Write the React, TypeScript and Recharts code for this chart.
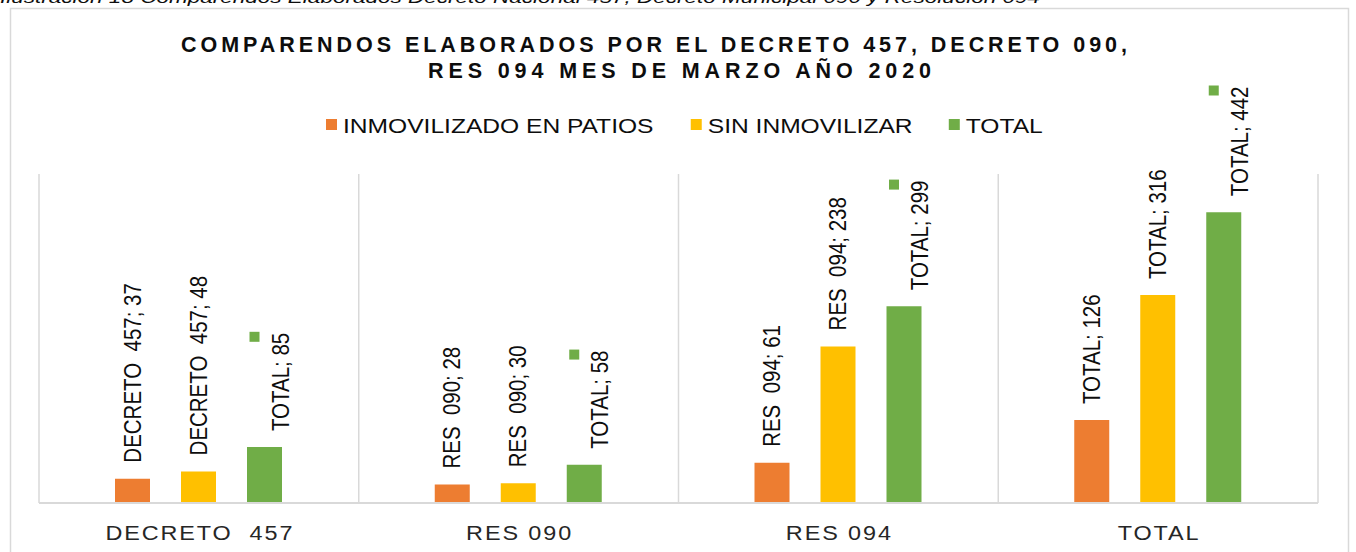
import React from "react";
import { BarChart, Bar, XAxis, YAxis, CartesianGrid, Legend, LabelList } from "recharts";

const categories = ["DECRETO  457", "RES 090", "RES 094", "TOTAL"];
const seriesNames = ["INMOVILIZADO EN PATIOS", "SIN INMOVILIZAR", "TOTAL"];
const inmovilizado = [37, 28, 61, 126];
const sinInmovilizar = [48, 30, 238, 316];
const total = [85, 58, 299, 442];
const inmovilizadoLabels = ["DECRETO  457; 37", "RES  090; 28", "RES  094; 61", "TOTAL; 126"];
const sinInmovilizarLabels = ["DECRETO  457; 48", "RES  090; 30", "RES  094; 238", "TOTAL; 316"];
const totalLabels = ["TOTAL; 85", "TOTAL; 58", "TOTAL; 299", "TOTAL; 442"];
const titleLines = ["COMPARENDOS ELABORADOS POR EL DECRETO 457, DECRETO 090,", "RES 094 MES DE MARZO AÑO 2020"];
const caption = "Ilustración 18 Comparendos Elaborados Decreto Nacional 457, Decreto Municipal 090 y Resolución 094";

const COLORS = ["#ED7D31", "#FFC000", "#70AD47"];
const FONT = "'Liberation Sans', Arial, sans-serif";
const STRETCH = 1.2; // the source picture is widened horizontally

const data = categories.map((c, i) => ({
  name: c,
  inmovilizado: inmovilizado[i],
  sin: sinInmovilizar[i],
  total: total[i],
}));

// rough Arial advance widths (em) for placing the legend key and legend items
const W: Record<string, number> = {
  " ": 0.278, ";": 0.278, ",": 0.278, I: 0.278, L: 0.556, T: 0.611, Z: 0.611, F: 0.611,
  A: 0.667, E: 0.667, P: 0.667, S: 0.667, V: 0.667, B: 0.667,
  C: 0.722, D: 0.722, N: 0.722, R: 0.722, H: 0.722, U: 0.722, O: 0.778, M: 0.833,
};
function textWidth(s: string, size: number) {
  let w = 0;
  for (const ch of s) w += W[ch] ?? 0.556;
  return w * size;
}

const LABEL_SIZE = 20.5;

function makeLabel(texts: string[], values: number[], legendKey: boolean) {
  return (props: any) => {
    const vb = props.viewBox ?? props;
    const { x, y, width } = vb;
    const idx = props.index ?? values.indexOf(Number(props.value));
    const txt = texts[idx];
    if (txt == null) return null;
    const cx = x + width / 2;
    const startY = y - 16;
    const tx = legendKey ? cx + 16 : cx;
    const len = textWidth(txt, LABEL_SIZE);
    return (
      <g>
        <text
          transform={`translate(${tx},${startY}) scale(${STRETCH},1) rotate(-90)`}
          x={0}
          y={0}
          dominantBaseline="central"
          textAnchor="start"
          fontFamily={FONT}
          fontSize={LABEL_SIZE}
          fill="#0d0d0d"
          style={{ whiteSpace: "pre" }}
        >
          {txt}
        </text>
        {legendKey && (
          <rect x={cx - 15} y={startY - len + 1} width={10} height={10} fill={COLORS[2]} />
        )}
      </g>
    );
  };
}

function CategoryTick(props: any) {
  const { x, y, payload } = props;
  return (
    <text
      transform={`translate(${x + 1},${y + 29}) scale(${STRETCH},1)`}
      textAnchor="middle"
      fontFamily={FONT}
      fontSize={19.5}
      letterSpacing={1.6}
      fill="#262626"
      style={{ whiteSpace: "pre" }}
    >
      {payload.value}
    </text>
  );
}

function LegendContent() {
  let cur = 326;
  const items = seriesNames.map((n, i) => {
    const sq = cur;
    const tx = sq + 17;
    const w = textWidth(n, 20) * STRETCH;
    cur = tx + w + 41;
    return (
      <g key={n}>
        <rect x={sq} y={119} width={11} height={11} fill={COLORS[i]} />
        <text
          transform={`translate(${tx},133) scale(${STRETCH},1)`}
          fontFamily={FONT}
          fontSize={20.5}
          fill="#0d0d0d"
        >
          {n}
        </text>
      </g>
    );
  });
  return (
    <svg width={1356} height={552} style={{ position: "absolute", left: 0, top: 0, pointerEvents: "none" }}>
      {items}
    </svg>
  );
}

export default function App() {
  return (
    <div style={{ position: "relative", width: 1356, height: 552, overflow: "hidden", background: "#fff" }}>
      <style>{`body{margin:0}`}</style>
      <svg width={1356} height={552} style={{ position: "absolute", left: 0, top: 0 }}>
        <text x={0} y={3} fontFamily={FONT} fontStyle="italic" fontSize={17} fill="#0d0d0d" textLength={1040} lengthAdjust="spacingAndGlyphs">
          {caption}
        </text>
        <rect x={10.5} y={8.5} width={1338} height={580} fill="none" stroke="#d9d9d9" strokeWidth={1.5} />
        <text x={181} y={52} fontFamily={FONT} fontWeight="bold" fontSize={21.5} fill="#0d0d0d" textLength={946} lengthAdjust="spacing">
          {titleLines[0]}
        </text>
        <text x={428} y={78} fontFamily={FONT} fontWeight="bold" fontSize={21.5} fill="#0d0d0d" textLength={503} lengthAdjust="spacing">
          {titleLines[1]}
        </text>
      </svg>
      <div style={{ position: "absolute", left: 0, top: 0 }}>
        <BarChart
          width={1356}
          height={552}
          data={data}
          margin={{ top: 174, right: 38, bottom: 0, left: 39 }}
          barSize={35}
          barGap={31}
        >
          <CartesianGrid
            horizontal={false}
            stroke="#d9d9d9"
            strokeWidth={1.5}
            verticalCoordinatesGenerator={({ offset }: any) =>
              categories.map((_, i) => offset.left + (i * offset.width) / categories.length).concat(offset.left + offset.width)
            }
          />
          <XAxis
            dataKey="name"
            height={49}
            tickLine={false}
            axisLine={{ stroke: "#d9d9d9", strokeWidth: 2 }}
            tick={<CategoryTick />}
            interval={0}
          />
          <YAxis hide domain={[0, 500]} />
          <Legend
            layout="horizontal"
            verticalAlign="middle"
            align="center"
            wrapperStyle={{ top: 0, left: 0, width: 1356, height: 552, pointerEvents: "none" }}
            content={<LegendContent />}
          />
          <Bar dataKey="inmovilizado" name={seriesNames[0]} fill={COLORS[0]} isAnimationActive={false}>
            <LabelList dataKey="inmovilizado" content={makeLabel(inmovilizadoLabels, inmovilizado, false)} />
          </Bar>
          <Bar dataKey="sin" name={seriesNames[1]} fill={COLORS[1]} isAnimationActive={false}>
            <LabelList dataKey="sin" content={makeLabel(sinInmovilizarLabels, sinInmovilizar, false)} />
          </Bar>
          <Bar dataKey="total" name={seriesNames[2]} fill={COLORS[2]} isAnimationActive={false}>
            <LabelList dataKey="total" content={makeLabel(totalLabels, total, true)} />
          </Bar>
        </BarChart>
      </div>
    </div>
  );
}
